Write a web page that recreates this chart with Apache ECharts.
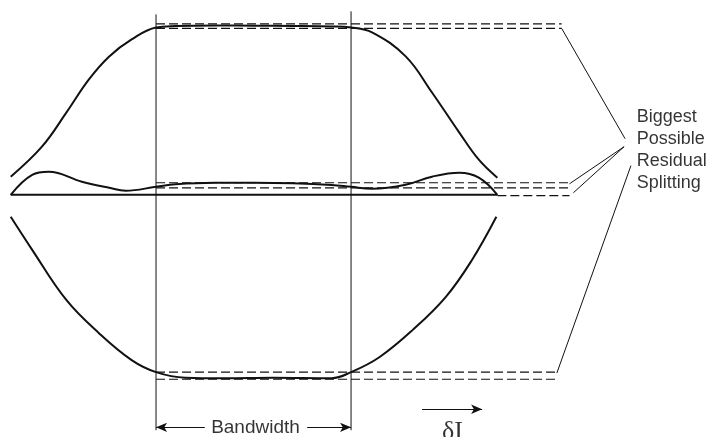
<!DOCTYPE html>
<html>
<head>
<meta charset="utf-8">
<title>Residual splitting vs offset</title>
<script src="https://cdn.jsdelivr.net/npm/echarts@6/dist/echarts.min.js"></script>
<style>
  html, body { margin: 0; padding: 0; background: #fff; }
  #chart { width: 707px; height: 437px; }
</style>
</head>
<body>
<div id="chart"></div>
<script>
// offset in units of half the bandwidth, splitting normalised to the uncoupled value
var upperEnvelope = [
  [-2.49, 0.107], [-2.17, 0.284], [-1.92, 0.485], [-1.69, 0.68], [-1.48, 0.817],
  [-1.25, 0.917], [-1, 0.988], [-0.8, 0.996], [-0.4, 1.0],
  [0, 0.998], [0.4, 0.997], [0.8, 0.994], [1, 0.988], [1.215, 0.959],
  [1.56, 0.817], [1.83, 0.604], [2.11, 0.367], [2.31, 0.207], [2.5, 0.101]
]
var lowerEnvelope = [
  [-2.49, -0.13], [-2.27, -0.325], [-1.92, -0.621], [-1.585, -0.817], [-1.25, -0.976],
  [-1, -1.047], [-0.7, -1.08], [-0.3, -1.083], [0.2, -1.08], [0.8, -1.083],
  [1, -1.047], [1.29, -0.959], [1.63, -0.799], [1.97, -0.604],
  [2.24, -0.385], [2.49, -0.13]
]
var residualCurve = [
  [-2.49, 0], [-2.27, 0.118], [-2.1, 0.136], [-1.76, 0.077], [-1.48, 0.041],
  [-1.31, 0.024], [-1, 0.047], [-0.8, 0.062], [-0.4, 0.071], [0, 0.071],
  [0.4, 0.068], [0.8, 0.058], [1, 0.047], [1.215, 0.036], [1.56, 0.059],
  [1.83, 0.107], [2.11, 0.13], [2.31, 0.101], [2.5, 0]
]
var baseline = [[-2.49, 0], [2.5, 0]]
var baselineTail = [[2.5, -0.005], [3.24, -0.005]]

// limits of the residual splitting (dashed)
var upperLimits = [[[-1, 1.009], [3.16, 1.009]], [[-1, 0.982], [3.16, 0.982]]]
var middleLimits = [[[-1, 0.071], [3.24, 0.071]], [[-1, 0.041], [3.24, 0.041]]]
var lowerLimits = [[[-1, -1.047], [3.11, -1.047]], [[-1, -1.089], [3.11, -1.089]]]

// leader lines to the label
var pointers = [
  [[3.16, 0.982], [3.81, 0.331]],
  [[3.8, 0.284], [3.24, 0.065]],
  [[3.8, 0.284], [3.28, 0.012]],
  [[3.87, 0.172], [3.11, -1.053]]
]
var bandEdges = [[[-1, 1.065], [-1, -1.39]], [[1, 1.083], [1, -1.39]]]
var bandArrows = [[[-0.5, -1.373], [-1, -1.373]], [[0.55, -1.373], [1, -1.373]]]
var offsetArrow = [[1.728, -1.266], [2.344, -1.266]]

var labelText = ['Biggest', 'Possible', 'Residual', 'Splitting']

function seg(data, width, dashed) {
  return {
    type: 'line',
    data: data,
    showSymbol: false,
    silent: true,
    animation: false,
    lineStyle: { color: '#111', width: width, type: dashed ? [9, 4] : 'solid' }
  }
}

function curve(data) {
  var s = seg(data, 2)
  s.smooth = 0.4
  return s
}

function arrow(points) {
  return {
    type: 'line',
    data: [],
    silent: true,
    animation: false,
    markLine: {
      silent: true,
      animation: false,
      symbol: ['none', 'arrow'],
      symbolSize: [7, 11],
      lineStyle: { color: '#111', width: 1.2, type: 'solid' },
      label: { show: false },
      data: [[{ coord: points[0] }, { coord: points[1] }]]
    }
  }
}

function text(pos, str, opts) {
  var label = {
    show: true,
    position: 'inside',
    formatter: str,
    color: '#000',
    fontSize: 18,
    fontFamily: 'Liberation Sans'
  }
  Object.keys(opts || {}).forEach(function(k) { label[k] = opts[k] })
  return {
    type: 'scatter',
    data: [pos],
    symbolSize: 0,
    silent: true,
    animation: false,
    clip: false,
    label: label
  }
}

var series = [
  curve(upperEnvelope),
  curve(lowerEnvelope),
  curve(residualCurve),
  seg(baseline, 2),
  seg(baselineTail, 1.2, true)
]
upperLimits.concat(middleLimits, lowerLimits).forEach(function(d) {
  series.push(seg(d, 1.2, true))
})
pointers.forEach(function(d) { series.push(seg(d, 1)) })
bandEdges.forEach(function(d) { series.push(seg(d, 1)) })
bandArrows.forEach(function(d) { series.push(arrow(d)) })
series.push(arrow(offsetArrow))

series.push(text([3.93, 0.264], labelText.join('\n'), {
  position: 'right', distance: 0, align: 'left', lineHeight: 22
}))
series.push(text([0.02, -1.373], 'Bandwidth', { fontSize: 19 }))
series.push(text([2.04, -1.40], 'δI', { fontSize: 26, fontFamily: 'Liberation Serif' }))

var chart = echarts.init(document.getElementById('chart'))
chart.setOption({
  backgroundColor: '#fff',
  grid: { left: 0, right: 0, top: 0, bottom: 0 },
  xAxis: { type: 'value', min: -2.6, max: 4.65, show: false },
  yAxis: { type: 'value', min: -1.43, max: 1.15, show: false },
  series: series
})
</script>
</body>
</html>
